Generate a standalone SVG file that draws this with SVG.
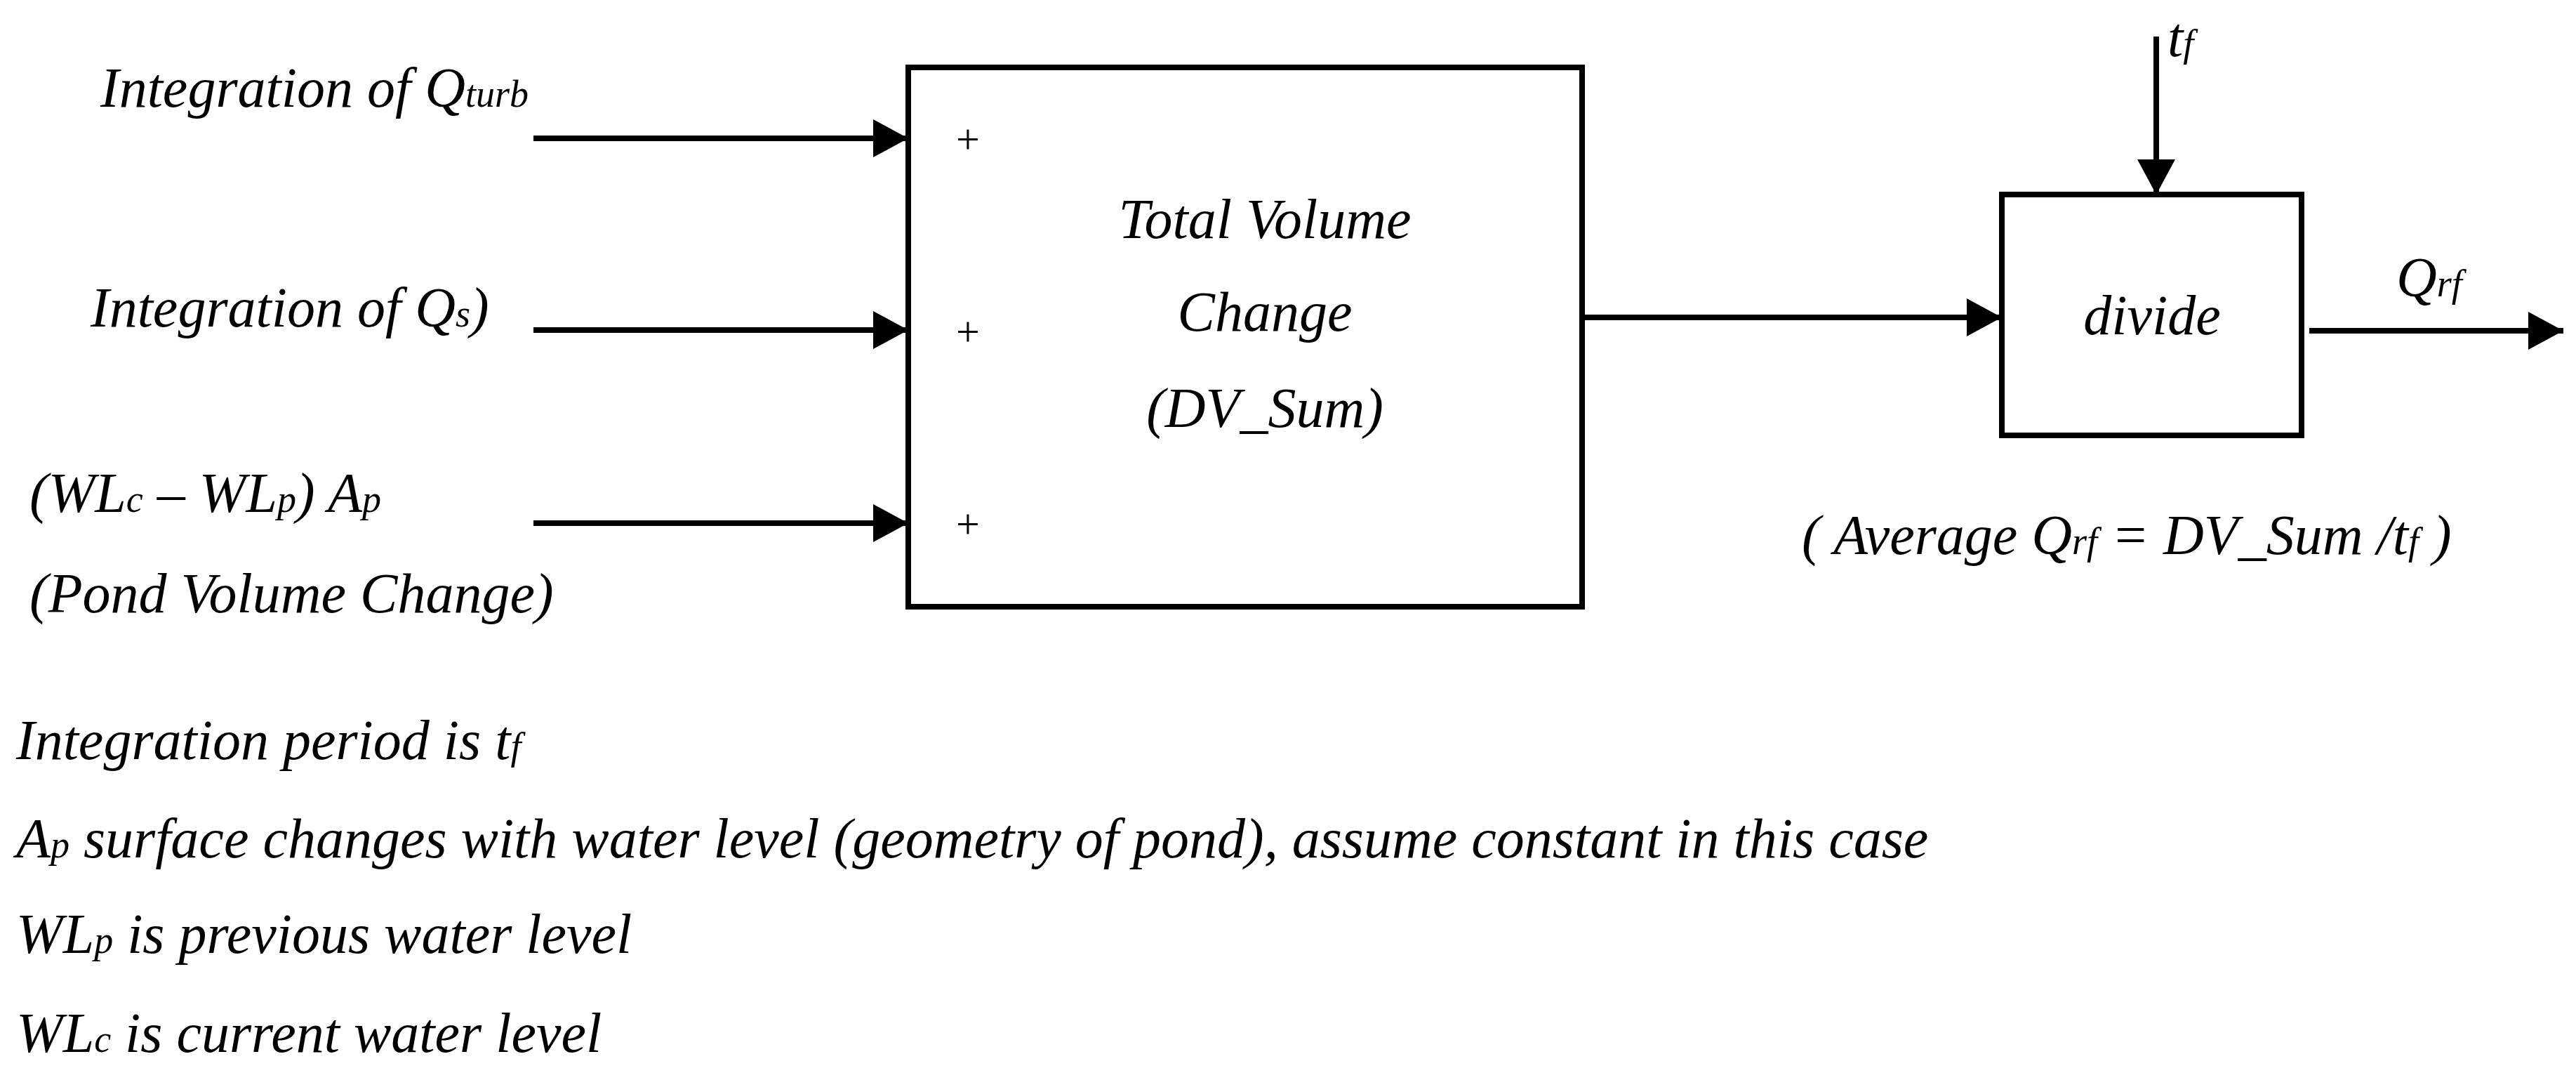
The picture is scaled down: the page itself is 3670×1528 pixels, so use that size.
<svg xmlns="http://www.w3.org/2000/svg" width="3670" height="1528" viewBox="0 0 3670 1528">
<style>
text{font-family:"Liberation Serif","DejaVu Serif",serif;font-style:italic;font-size:80px;fill:#000}
.s{font-size:54px}
.box{fill:#fff;stroke:#000;stroke-width:8}
.c{stroke:#000;stroke-width:8;fill:none}
.p{font-style:normal;font-size:60px}
</style>
<defs>
<marker id="ah" markerUnits="userSpaceOnUse" markerWidth="50" markerHeight="54" refX="50" refY="27" orient="auto">
<path d="M0,0 L50,27 L0,54 z" fill="#000"/>
</marker>
</defs>
<g id="connectors">
<line class="c" x1="760" y1="197" x2="1294" y2="197" marker-end="url(#ah)"/>
<line class="c" x1="760" y1="470" x2="1294" y2="470" marker-end="url(#ah)"/>
<line class="c" x1="760" y1="745" x2="1294" y2="745" marker-end="url(#ah)"/>
<line class="c" x1="2254" y1="452" x2="2852" y2="452" marker-end="url(#ah)"/>
<line class="c" x1="3072" y1="52" x2="3072" y2="277" marker-end="url(#ah)"/>
<line class="c" x1="3290" y1="471" x2="3652" y2="471" marker-end="url(#ah)"/>
</g>
<g id="sum">
<rect class="box" x="1294" y="96" width="960" height="768"/>
<text class="p" x="1362" y="218">+</text>
<text class="p" x="1362" y="492">+</text>
<text class="p" x="1362" y="766">+</text>
<text x="1802" y="339" text-anchor="middle">Total Volume</text>
<text x="1802" y="471" text-anchor="middle">Change</text>
<text x="1802" y="608" text-anchor="middle">(DV_Sum)</text>
</g>
<g id="divide">
<rect class="box" x="2852" y="277" width="427" height="343"/>
<text x="3066" y="476" text-anchor="middle">divide</text>
</g>
<g id="labels">
<text x="143" y="152">Integration of Q<tspan class="s">turb</tspan></text>
<text x="129" y="465">Integration of Q<tspan class="s">s</tspan>)</text>
<text x="42" y="729">(WL<tspan class="s">c</tspan> – WL<tspan class="s">p</tspan>) A<tspan class="s">p</tspan></text>
<text x="42" y="872">(Pond Volume Change)</text>
<text x="3088" y="80">t<tspan class="s">f</tspan></text>
<text x="3414" y="422">Q<tspan class="s">rf</tspan></text>
<text x="2567" y="789">( Average Q<tspan class="s">rf</tspan> = DV_Sum /t<tspan class="s">f</tspan> )</text>
<text x="23" y="1081">Integration period is t<tspan class="s">f</tspan></text>
<text x="23" y="1221">A<tspan class="s">p</tspan> surface changes with water level (geometry of pond), assume constant in this case</text>
<text x="23" y="1357">WL<tspan class="s">p</tspan> is previous water level</text>
<text x="23" y="1498">WL<tspan class="s">c</tspan> is current water level</text>
</g>
</svg>
